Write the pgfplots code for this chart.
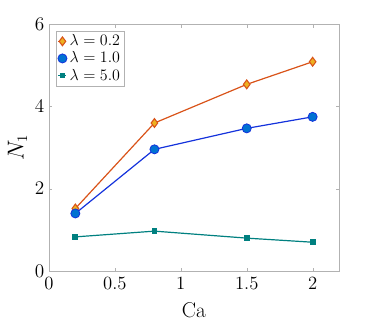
\documentclass[border=0pt]{standalone}
\usepackage{pgfplots}
\pgfplotsset{compat=1.18}
\definecolor{mlorange}{RGB}{217,83,25}
\definecolor{mlyellow}{RGB}{237,177,32}
\definecolor{mlblue}{RGB}{20,50,220}
\definecolor{mlblueface}{RGB}{0,114,210}
\definecolor{mlteal}{RGB}{0,128,128}
\begin{document}
\begin{tikzpicture}
\path[use as bounding box] (-36.75pt,-41.25pt) rectangle (243.75pt,203.25pt);
\begin{axis}[
  at={(0pt,0pt)}, anchor=south west,
  scale only axis, width=217.5pt, height=185pt,
  xmin=0, xmax=2.2, ymin=0, ymax=6,
  xtick={0,0.5,1,1.5,2}, ytick={0,2,4,6},
  xticklabels={0,0.5,1,1.5,2},
  tick align=inside, major tick length=2.5pt,
  axis line style={gray!60},
  tick style={gray!60},
  tick label style={font=\fontsize{14}{15}\selectfont},
  xticklabel style={yshift=-1pt},
  xlabel={Ca}, ylabel={$N_1$},
  label style={font=\fontsize{16}{17}\selectfont},
  xlabel style={yshift=-3pt},
  ylabel style={yshift=-1pt},
  legend style={font=\fontsize{12}{13}\selectfont, draw=gray!60, inner sep=1pt, row sep=-1pt, at={(0.025,0.975)}, anchor=north west},
  legend cell align=left,
  legend image code/.code={\draw[#1] (0pt,0pt) -- (6pt,0pt); \draw[#1, only marks] plot coordinates {(3pt,0pt)};},
]
\addplot[color=mlorange, line width=0.9pt, mark=diamond*, mark size=3.3pt, mark options={fill=mlyellow, draw=mlorange, line width=0.8pt}]
  coordinates {(0.2,1.52) (0.8,3.60) (1.5,4.54) (2.0,5.09)};
\addlegendentry{$\lambda=0.2$}
\addplot[color=mlblue, line width=0.9pt, mark=*, mark size=3.4pt, mark options={fill=mlblueface, draw=mlblue, line width=0.6pt}]
  coordinates {(0.2,1.40) (0.8,2.96) (1.5,3.47) (2.0,3.75)};
\addlegendentry{$\lambda=1.0$}
\addplot[color=mlteal, line width=0.9pt, mark=square*, mark size=1.7pt, mark options={fill=mlteal, draw=mlteal}]
  coordinates {(0.2,0.83) (0.8,0.97) (1.5,0.80) (2.0,0.70)};
\addlegendentry{$\lambda=5.0$}
\end{axis}
\end{tikzpicture}
\end{document}
